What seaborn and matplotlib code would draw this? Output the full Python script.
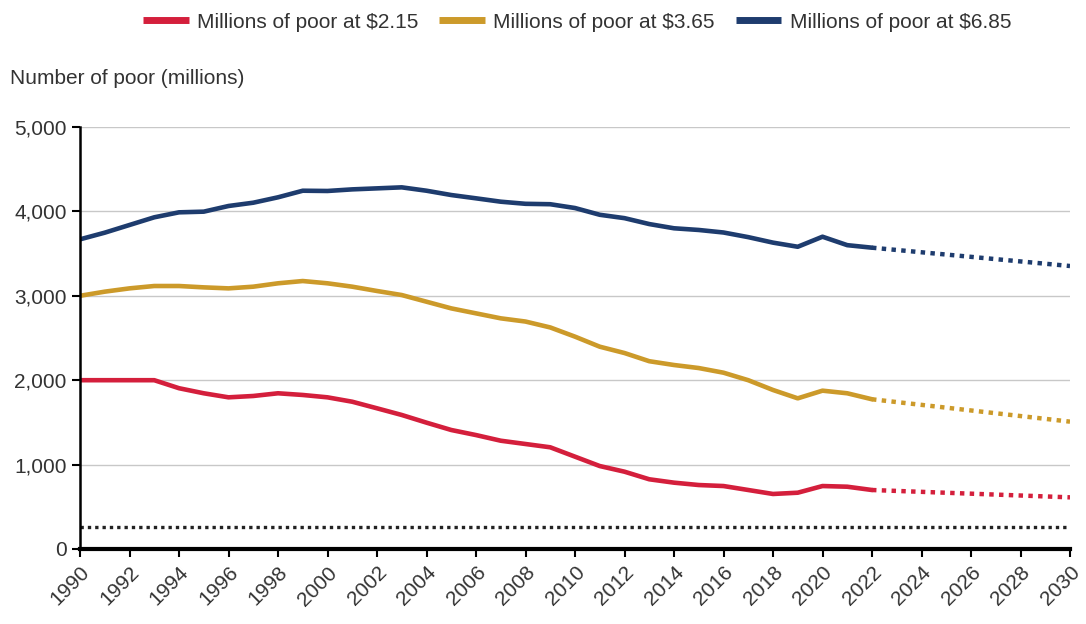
import matplotlib
matplotlib.use("Agg")
import matplotlib.pyplot as plt
import numpy as np
import pandas as pd
import seaborn as sns

# observed series 1990-2022 (millions of poor)
years = list(range(1990, 2023))
poor_215 = [2000, 2000, 2000, 2000, 1905, 1845, 1797, 1813, 1845, 1825,
            1797, 1745, 1667, 1588, 1497, 1410, 1350, 1283, 1244, 1205,
            1094, 983, 916, 826, 786, 758, 746, 699, 652, 667,
            746, 738, 699]
poor_365 = [3000, 3049, 3088, 3116, 3116, 3100, 3088, 3108, 3148, 3175,
            3148, 3108, 3057, 3009, 2930, 2851, 2792, 2733, 2695, 2625,
            2516, 2397, 2322, 2225, 2180, 2144, 2089, 2000, 1884, 1785,
            1876, 1845, 1774]
poor_685 = [3669, 3748, 3839, 3930, 3989, 3997, 4064, 4103, 4167, 4245,
            4242, 4261, 4273, 4285, 4245, 4194, 4155, 4115, 4090, 4085,
            4040, 3960, 3920, 3850, 3800, 3780, 3750, 3695, 3630, 3581,
            3700, 3600, 3570]

# projections 2022-2030
proj_years = [2022, 2030]
proj_215 = [699, 612]
proj_365 = [1774, 1509]
proj_685 = [3570, 3353]

target_value = 255

labels = ["Millions of poor at $2.15", "Millions of poor at $3.65",
          "Millions of poor at $6.85"]
colors = ["#d41f3c", "#cc9a2a", "#1e3c6e"]

df = pd.DataFrame({
    "year": years * 3,
    "poor": poor_215 + poor_365 + poor_685,
    "series": [labels[0]] * len(years) + [labels[1]] * len(years) + [labels[2]] * len(years),
})
proj = pd.DataFrame({
    "year": proj_years * 3,
    "poor": proj_215 + proj_365 + proj_685,
    "series": [labels[0]] * 2 + [labels[1]] * 2 + [labels[2]] * 2,
})

sns.set_style("white")
plt.rcParams["font.family"] = ["Liberation Sans", "DejaVu Sans"]

fig = plt.figure(figsize=(10.86, 6.24), dpi=100)
ax = fig.add_axes([80 / 1086, 75 / 624, 990 / 1086, 422 / 624])

sns.lineplot(data=df, x="year", y="poor", hue="series", palette=colors,
             linewidth=3.3, ax=ax)
sns.lineplot(data=proj, x="year", y="poor", hue="series", palette=colors,
             linewidth=3.2, linestyle=(0, (1, 1.2)), legend=False, ax=ax)
ax.axhline(target_value, color="#222222", linewidth=2.4, linestyle=(0, (1, 1.2)))

ax.set_xlim(1990, 2030)
ax.set_ylim(0, 5000)
ax.set_xticks(range(1990, 2031, 2))
ax.set_xticklabels([str(y) for y in range(1990, 2031, 2)], rotation=45,
                   ha="right", rotation_mode="anchor", fontsize=15, color="#333333")
ax.set_yticks(range(0, 5001, 1000))
ax.set_yticklabels([f"{v:,}" for v in range(0, 5001, 1000)], fontsize=15,
                   color="#333333")
ax.tick_params(axis="both", direction="out", length=6, width=1.5, color="black",
               bottom=True, left=True)
ax.tick_params(axis="x", pad=4)
ax.yaxis.grid(True, color="#c8c8c8", linewidth=1)
ax.set_axisbelow(True)
ax.set_xlabel("")
ax.set_ylabel("")
for side in ["top", "right"]:
    ax.spines[side].set_visible(False)
ax.spines["left"].set_color("black")
ax.spines["left"].set_linewidth(1.8)
ax.spines["bottom"].set_color("black")
ax.spines["bottom"].set_linewidth(3)

fig.text(10 / 1086, 1 - 78 / 624, "Number of poor (millions)", fontsize=15,
         color="#333333", va="center", ha="left")

handles, _ = ax.get_legend_handles_labels()
ax.legend_.remove()
for h in handles:
    h.set_linewidth(5)
    h.set_solid_capstyle("butt")
fig.legend(handles, labels, loc="center", bbox_to_anchor=(577 / 1086, 1 - 22 / 624),
           ncol=3, frameon=False, fontsize=15, handlelength=2.2,
           handletextpad=0.4, columnspacing=1.0, labelcolor="#333333")

fig.savefig("out.png", dpi=100)
